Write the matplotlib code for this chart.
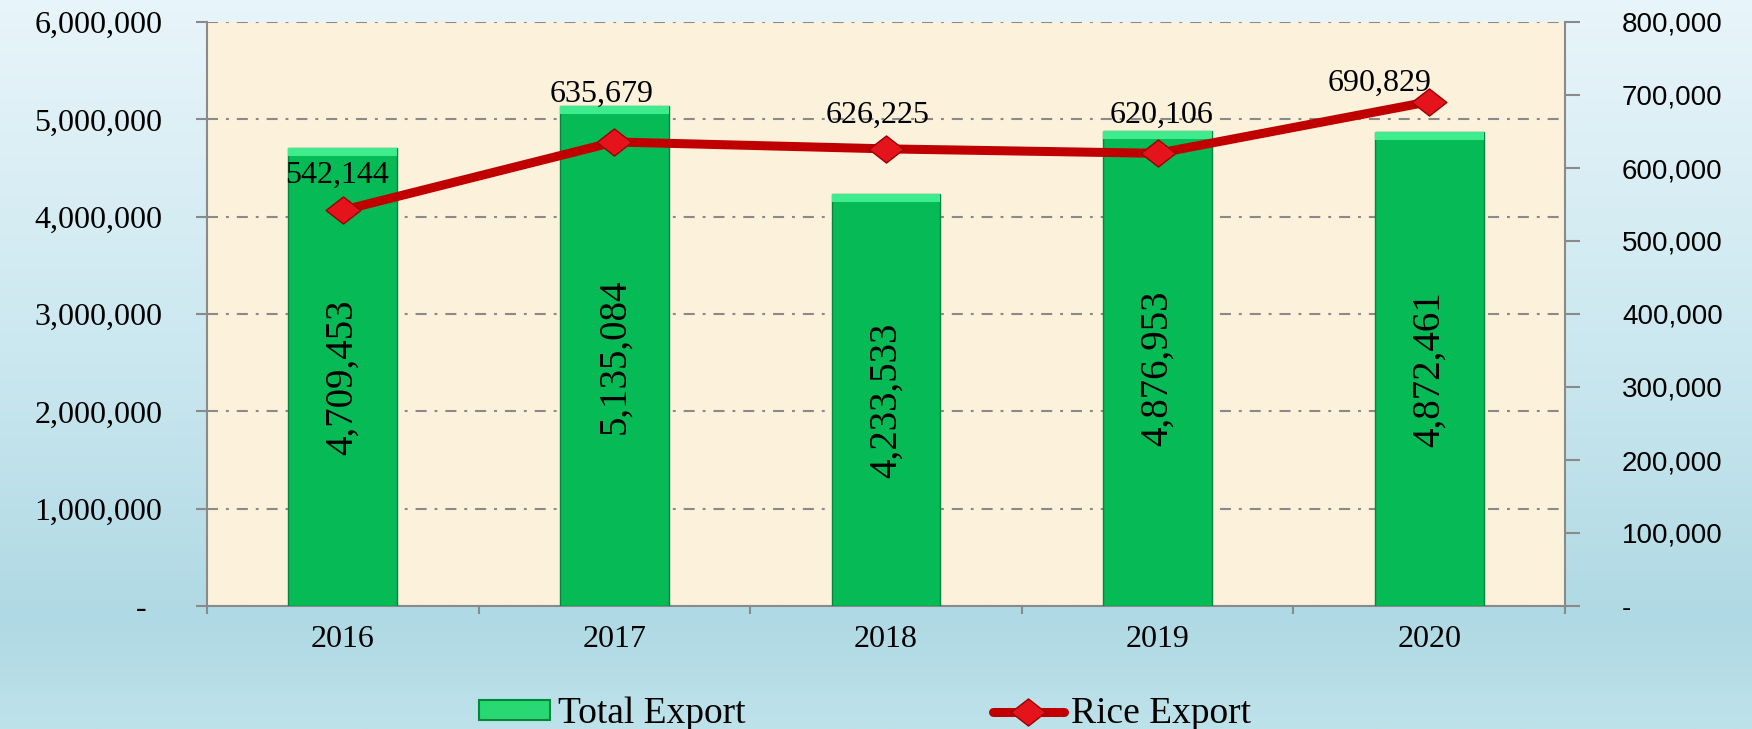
import numpy as np
import matplotlib
matplotlib.use("Agg")
import matplotlib.pyplot as plt
from matplotlib.colors import LinearSegmentedColormap
from matplotlib.path import Path
from matplotlib.patches import Patch
from matplotlib.lines import Line2D
from matplotlib.ticker import FuncFormatter, MultipleLocator

years = ["2016", "2017", "2018", "2019", "2020"]
total_export = [4709453, 5135084, 4233533, 4876953, 4872461]
rice_export = [542144, 635679, 626225, 620106, 690829]

# label nudges (points) for the rice labels, as placed in the original
rice_label_offsets = [(-4, 25), (-9, 34), (-6, 24), (3, 27), (-36, 13)]

SERIF = "Liberation Serif"
SANS = "Liberation Sans"
GRAY = "#8a8a8a"

fig = plt.figure(figsize=(17.52, 7.29), dpi=100)

# gradient backdrop
bg = fig.add_axes([0, 0, 1, 1], zorder=-10)
cmap = LinearSegmentedColormap.from_list(
    "bg", [(0, "#E8F5FA"), (0.5, "#CAE7EF"), (0.85, "#AFD9E4"), (1.0, "#BEE2EA")])
bg.imshow(np.linspace(0, 1, 256).reshape(-1, 1), aspect="auto", cmap=cmap,
          extent=[0, 1, 0, 1])
bg.axis("off")

ax = fig.add_axes([207 / 1752, 1 - 606 / 729, (1565 - 207) / 1752, (606 - 22) / 729])
ax.set_facecolor("#FCF2DB")
x = np.arange(len(years))

# bars, with a light strip on top for the bevel look
ax.bar(x, total_export, width=0.4, color="#06BA55", edgecolor="#04863D",
       linewidth=1, zorder=3)
bevel = 0.014 * 6000000
ax.bar(x, bevel, width=0.4, bottom=np.array(total_export) - bevel,
       color="#3EEB8D", linewidth=0, zorder=4)
for xi, v in zip(x, total_export):
    ax.text(xi, v / 2, f"{v:,}", rotation=90, ha="center", va="center",
            family=SERIF, fontsize=28, zorder=5)

ax.set_xlim(-0.5, len(years) - 0.5)
ax.set_ylim(0, 6000000)
ax.yaxis.set_major_locator(MultipleLocator(1000000))
ax.yaxis.set_major_formatter(FuncFormatter(lambda v, p: f"{v:,.0f}" if v else "-  "))
ax.set_xticks(x)
ax.set_xticklabels(years, family=SERIF, fontsize=23)
ax.set_xticks(np.arange(len(years) + 1) - 0.5, minor=True)
ax.tick_params(axis="x", which="major", length=0, pad=14)
ax.tick_params(axis="x", which="minor", length=6, width=1.5, color=GRAY)
ax.tick_params(axis="y", length=8, width=1.5, color=GRAY, pad=24, labelsize=23)
for lbl in ax.get_yticklabels():
    lbl.set_family(SERIF)
ax.grid(axis="y", color=GRAY, linewidth=1.5, linestyle=(0, (5.3, 3.8, 1.4, 3.8)),
        zorder=1)
ax.set_axisbelow(True)
for s in ["left", "right", "bottom"]:
    ax.spines[s].set_color(GRAY)
    ax.spines[s].set_linewidth(1.5)
ax.spines["top"].set_visible(False)

# rice line on secondary axis
ax2 = ax.twinx()
ax2.set_ylim(0, 800000)
ax2.yaxis.set_major_locator(MultipleLocator(100000))
ax2.yaxis.set_major_formatter(FuncFormatter(lambda v, p: f"{v:,.0f}" if v else "-"))
ax2.tick_params(axis="y", length=11, width=1.5, color=GRAY, pad=30, labelsize=20)
for lbl in ax2.get_yticklabels():
    lbl.set_family(SANS)
for s in ["left", "right", "bottom", "top"]:
    ax2.spines[s].set_visible(False)

diamond = Path([(-1, 0), (0, 0.78), (1, 0), (0, -0.78), (-1, 0)],
               [Path.MOVETO, Path.LINETO, Path.LINETO, Path.LINETO, Path.CLOSEPOLY])
ax2.plot(x, rice_export, color="#C00000", linewidth=6.5, marker=diamond,
         markersize=25, markerfacecolor="#E5141C", markeredgecolor="#9C0000",
         markeredgewidth=1, solid_capstyle="round", zorder=6, label="Rice Export")
for xi, v, off in zip(x, rice_export, rice_label_offsets):
    ax2.annotate(f"{v:,}", (xi, v), xytext=off, textcoords="offset points",
                 ha="center", va="center", family=SERIF, fontsize=23, zorder=7)

# legend
handles = [Patch(facecolor="#27D873", edgecolor="#04863D", linewidth=1.5),
           Line2D([], [], color="#C00000", linewidth=6.5, marker=diamond,
                  markersize=25, markerfacecolor="#E5141C",
                  markeredgecolor="#9C0000", solid_capstyle="round")]
fig.legend(handles, ["Total Export", "Rice Export"], loc="center",
           bbox_to_anchor=(865 / 1752, 1 - 714 / 729), ncol=2, frameon=False,
           prop={"family": SERIF, "size": 27}, handlelength=1.9, handleheight=0.45,
           handletextpad=0.2, columnspacing=6.6, borderpad=0)

fig.savefig("out.png", dpi=100)
